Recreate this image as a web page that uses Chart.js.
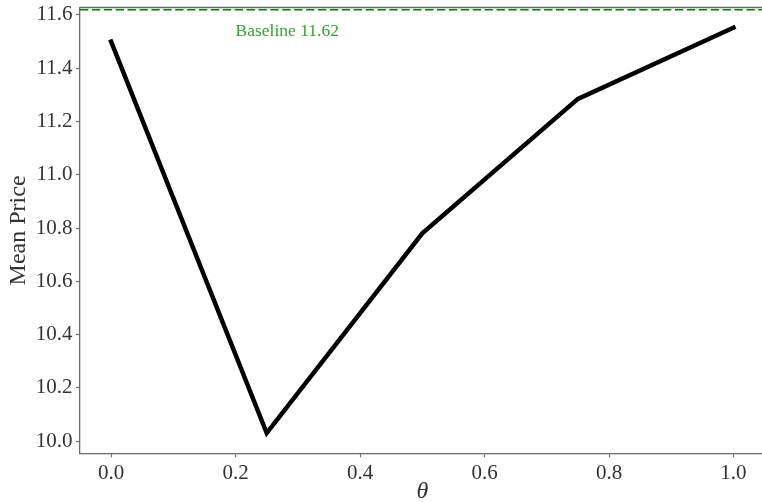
<!DOCTYPE html>
<html>
<head>
<meta charset="utf-8">
<script src="https://cdn.jsdelivr.net/npm/chart.js@4/dist/chart.umd.min.js"></script>
<style>
  html, body { margin: 0; padding: 0; overflow: hidden; background: #fff; }
  #wrap { width: 770px; height: 502px; position: relative; }
</style>
</head>
<body>
<div id="wrap"><canvas id="c" width="770" height="502"></canvas></div>
<script>
const thetas = [0.0, 0.25, 0.5, 0.75, 1.0];
const meanPrice = [11.50, 10.03, 10.78, 11.285, 11.552];
const baselineValue = 11.62;
const baselineLabel = 'Baseline 11.62';
const xTicks = [0.0, 0.2, 0.4, 0.6, 0.8, 1.0];
const yTicks = [10.0, 10.2, 10.4, 10.6, 10.8, 11.0, 11.2, 11.4, 11.6];

const SERIF = '"Liberation Serif", "DejaVu Serif", serif';
const SPINE = '#6a6a6a';
const TEXT = '#333333';

const extras = {
  id: 'extras',
  beforeDatasetsDraw(chart) {
    const { ctx, chartArea, scales } = chart;
    const y = scales.y.getPixelForValue(baselineValue);
    ctx.save();
    ctx.strokeStyle = '#008000';
    ctx.lineWidth = 1.5;
    ctx.setLineDash([8.3, 3.6]);
    ctx.beginPath();
    ctx.moveTo(chartArea.left, y);
    ctx.lineTo(chartArea.right, y);
    ctx.stroke();
    ctx.restore();
  },
  afterDraw(chart) {
    const { ctx, chartArea, scales } = chart;
    ctx.save();
    ctx.strokeStyle = SPINE;
    ctx.lineWidth = 1.3;
    ctx.beginPath();
    ctx.moveTo(chartArea.left, chartArea.top);
    ctx.lineTo(chartArea.right, chartArea.top);
    ctx.stroke();
    ctx.fillStyle = '#36a036';
    ctx.font = '17.5px ' + SERIF;
    ctx.textAlign = 'left';
    ctx.textBaseline = 'middle';
    const tx = scales.x.getPixelForValue(0.2);
    const ty = scales.y.getPixelForValue(baselineValue) + 21.5;
    ctx.fillText(baselineLabel, tx, ty);
    ctx.restore();
  }
};

new Chart(document.getElementById('c'), {
  type: 'scatter',
  data: {
    datasets: [{
      data: thetas.map((t, i) => ({ x: t, y: meanPrice[i] })),
      showLine: true,
      borderColor: '#000',
      borderWidth: 4.5,
      borderJoinStyle: 'miter',
      borderCapStyle: 'square',
      pointRadius: 0,
      pointHoverRadius: 0,
      tension: 0,
      fill: false
    }]
  },
  options: {
    responsive: false,
    animation: false,
    events: [],
    layout: { padding: { left: 0, right: 5.4, top: 7.5, bottom: 0 } },
    plugins: { legend: { display: false }, tooltip: { enabled: false } },
    scales: {
      x: {
        type: 'linear',
        min: -0.05,
        max: 1.05,
        afterBuildTicks(scale) { scale.ticks = xTicks.map(v => ({ value: v })); },
        afterFit(scale) { scale.height = 48.7; scale.paddingLeft = 0; scale.paddingRight = 0; },
        grid: { drawOnChartArea: false, drawTicks: true, tickLength: 4, tickColor: SPINE, tickWidth: 1.2 },
        border: { display: true, color: SPINE, width: 1.3 },
        ticks: {
          color: TEXT,
          font: { family: SERIF, size: 21 },
          padding: 4,
          maxRotation: 0,
          autoSkip: false,
          callback: v => Number(v).toFixed(1)
        },
        title: {
          display: true,
          text: 'θ',
          color: TEXT,
          font: { family: SERIF, size: 24, style: 'italic' },
          padding: { top: 0, bottom: -4.4 }
        }
      },
      y: {
        type: 'linear',
        min: 9.954,
        max: 11.628,
        afterBuildTicks(scale) { scale.ticks = yTicks.map(v => ({ value: v })); },
        afterFit(scale) { scale.width = 80; scale.paddingTop = 0; scale.paddingBottom = 0; },
        grid: { drawOnChartArea: false, drawTicks: true, tickLength: 4, tickColor: SPINE, tickWidth: 1.2 },
        border: { display: true, color: SPINE, width: 1.3 },
        ticks: {
          color: TEXT,
          font: { family: SERIF, size: 21 },
          padding: 3.5,
          autoSkip: false,
          callback: v => Number(v).toFixed(1)
        },
        title: {
          display: true,
          text: 'Mean Price',
          color: TEXT,
          font: { family: SERIF, size: 24 },
          padding: { top: 4, bottom: 0 }
        }
      }
    }
  },
  plugins: [extras]
});
</script>
</body>
</html>
